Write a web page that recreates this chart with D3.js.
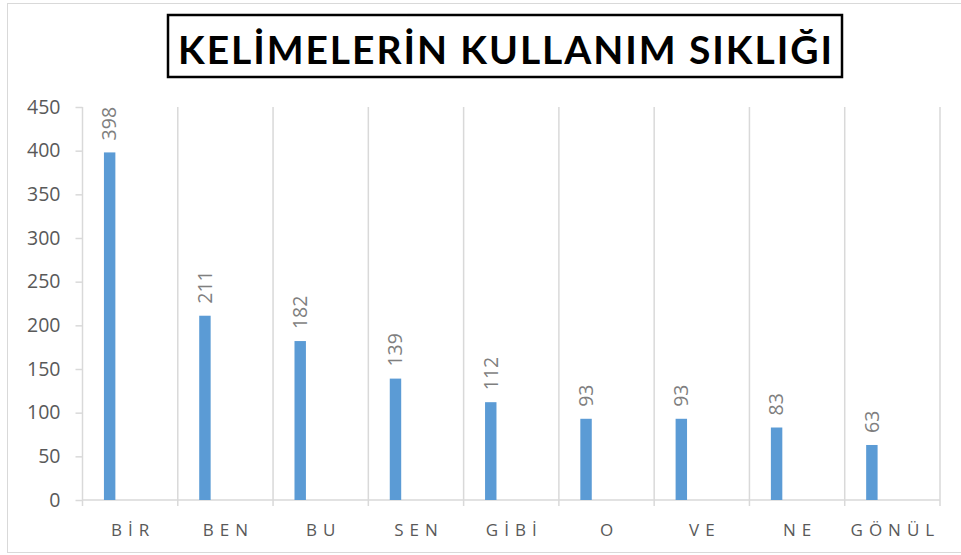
<!DOCTYPE html>
<html>
<head>
<meta charset="utf-8">
<script src="https://cdn.jsdelivr.net/npm/d3@7"></script>
<style>
  body { margin: 0; background: #fff; }
  svg { display: block; }
</style>
</head>
<body>
<div id="chart"></div>
<script>
// kelimeler ve kullanım sayıları
const words = ["BİR", "BEN", "BU", "SEN", "GİBİ", "O", "VE", "NE", "GÖNÜL"];
const counts = [398, 211, 182, 139, 112, 93, 93, 83, 63];
const yTicks = [0, 50, 100, 150, 200, 250, 300, 350, 400, 450];
const title = "KELİMELERİN KULLANIM SIKLIĞI";

const W = 961, H = 555;
const plot = { left: 82.5, right: 940, top: 107, bottom: 500 };

const svg = d3.select("#chart").append("svg")
  .attr("width", W)
  .attr("height", H);

// dış çerçeve
svg.append("rect")
  .attr("x", 7.5).attr("y", 3.5)
  .attr("width", W).attr("height", 549)
  .attr("fill", "#fff")
  .attr("stroke", "#d9d9d9");

const x = d3.scaleBand()
  .domain(words)
  .range([plot.left, plot.right])
  .padding(0);

const y = d3.scaleLinear()
  .domain([0, 450])
  .range([plot.bottom, plot.top]);

const bw = x.bandwidth();

// dikey ızgara çizgileri (kategori sınırları)
const bounds = words.map(w => x(w)).concat([plot.right]);
svg.append("g")
  .selectAll("line")
  .data(bounds.slice(1))
  .join("line")
  .attr("x1", d => d).attr("x2", d => d)
  .attr("y1", y(450)).attr("y2", plot.bottom + 6)
  .attr("stroke", "#d9d9d9")
  .attr("stroke-width", 1.5);

// y ekseni
const yAxisG = svg.append("g")
  .attr("transform", `translate(${plot.left},0)`)
  .call(d3.axisLeft(y).tickValues(yTicks).tickSize(7).tickPadding(15));
yAxisG.select(".domain").remove();
yAxisG.selectAll(".tick line").attr("stroke", "#d9d9d9").attr("stroke-width", 1.5);
yAxisG.selectAll(".tick text")
  .attr("fill", "#595959")
  .style("font-family", "'Open Sans', sans-serif")
  .style("font-size", "19.5px");
yAxisG.append("line")
  .attr("x1", 0).attr("x2", 0)
  .attr("y1", y(450)).attr("y2", plot.bottom + 6)
  .attr("stroke", "#d9d9d9")
  .attr("stroke-width", 1.5);

// x ekseni çizgisi
svg.append("line")
  .attr("x1", plot.left).attr("x2", plot.right)
  .attr("y1", plot.bottom).attr("y2", plot.bottom)
  .attr("stroke", "#d9d9d9")
  .attr("stroke-width", 1.5);

// x etiketleri
const spacing = 6;
svg.append("g")
  .selectAll("text")
  .data(words)
  .join("text")
  .attr("x", d => x(d) + bw / 2 + spacing / 2)
  .attr("y", 536)
  .attr("text-anchor", "middle")
  .attr("fill", "#595959")
  .style("font-family", "'Open Sans', sans-serif")
  .style("font-size", "17px")
  .style("letter-spacing", spacing + "px")
  .text(d => d);

// çubuklar
const data = words.map((w, i) => ({ word: w, value: counts[i] }));
const barX = d => x(d.word) + bw * 0.225;
const barW = bw * 0.12;

svg.append("g")
  .selectAll("rect")
  .data(data)
  .join("rect")
  .attr("x", barX)
  .attr("y", d => y(d.value))
  .attr("width", barW)
  .attr("height", d => plot.bottom - y(d.value))
  .attr("fill", "#5b9bd5");

// değer etiketleri (dikey)
svg.append("g")
  .selectAll("text")
  .data(data)
  .join("text")
  .attr("transform", d => `translate(${barX(d) + barW / 2},${y(d.value) - 12}) rotate(-90)`)
  .attr("dy", "0.35em")
  .attr("text-anchor", "start")
  .attr("fill", "#7f7f7f")
  .style("font-family", "'Open Sans', sans-serif")
  .style("font-size", "19.5px")
  .text(d => d.value);

// başlık kutusu
svg.append("rect")
  .attr("x", 168).attr("y", 15)
  .attr("width", 674).attr("height", 62)
  .attr("fill", "#fff")
  .attr("stroke", "#000")
  .attr("stroke-width", 2.5);

svg.append("text")
  .attr("x", 178)
  .attr("y", 64)
  .attr("textLength", 654)
  .attr("lengthAdjust", "spacing")
  .attr("fill", "#000")
  .style("font-family", "Lato, 'Open Sans', sans-serif")
  .style("font-weight", "bold")
  .style("font-size", "39px")
  .text(title);
</script>
</body>
</html>
